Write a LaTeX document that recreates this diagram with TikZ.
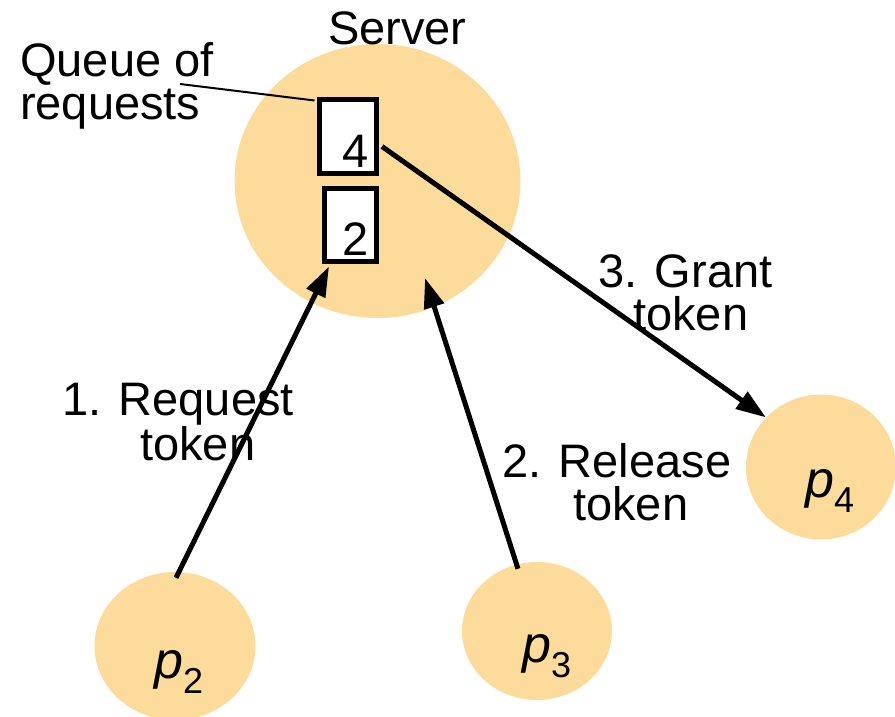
\documentclass[tikz,border=0pt]{standalone}
\usepackage{fontspec}
\setmainfont{Liberation Sans}
\usetikzlibrary{shapes.geometric,arrows.meta,calc}
\definecolor{procfill}{RGB}{253,219,155}
\tikzset{
  proc/.style={ellipse, fill=procfill, inner sep=0pt},
  qbox/.style={draw, line width=5pt, fill=white, inner sep=0pt},
  % multi-line texts are placed by the baseline of their last line
  txt/.style={inner sep=0pt, anchor=base west, align=left, font=\fontsize{47}{42.5}\selectfont},
  pname/.style={inner sep=0pt, anchor=base west, font=\fontsize{52}{52}\selectfont},
  msg/.style={line width=5pt, -{Triangle[length=30pt,width=20pt]}},
  leader/.style={line width=2pt},
}
\newcommand{\pid}[1]{\textit{p}\raisebox{-15pt}{\fontsize{36}{36}\selectfont #1}}

\begin{document}
\begin{tikzpicture}[x=1pt,y=-1pt]
\useasboundingbox (0,0) rectangle (895,717);

% server and processes
\node[proc, minimum width=286pt, minimum height=274pt] (server) at (377.5,181) {};
\node[proc, minimum width=161pt, minimum height=148pt] (p2) at (175,646) {};
\node[proc, minimum width=150pt, minimum height=138pt] (p3) at (537,631) {};
\node[proc, minimum width=150pt, minimum height=145pt] (p4) at (821,467) {};

% request queue
\node[qbox, minimum width=57pt, minimum height=74pt] (box4) at (348,136.5) {};
\node[qbox, minimum width=52pt, minimum height=73pt] (box2) at (350.5,225) {};
\node[txt] (q4) at (342,167) {4};
\node[txt] (q2) at (342,255) {2};

% labels
\node[txt] (srvlbl) at (328,45) {Server};
\node[txt] (qlbl) at (20,119) {Queue of\\requests};
\node[txt] (m1) at (62,460) {1. Request\\\hspace*{78pt}token};
\node[txt] (m2) at (502,520) {2. Release\\\hspace*{71pt}token};
\node[txt] (m3) at (598,330) {3. Grant\\\hspace*{35pt}token};

\node[pname] (p2lbl) at (154,678) {\pid{2}};
\node[pname] (p3lbl) at (522,662) {\pid{3}};
\node[pname] (p4lbl) at (805,497) {\pid{4}};

% leader from the queue label
\coordinate (qtail) at (180,84);
\draw[leader] (qtail) -- ($(box4.north west)+(-2.5,3.5)$);

% messages
\coordinate (relin) at ($(server.center)+(47.5,97)$);
\draw[msg] ($(p2.north)+(1,6)$) -- ($(box2.south west)+(7,2.5)$);
\draw[msg] ($(p3.north)+(-19,7)$) -- (relin);
\draw[msg] ($(box4.east)+(3,10)$) -- (p4.138);
\end{tikzpicture}
\end{document}
